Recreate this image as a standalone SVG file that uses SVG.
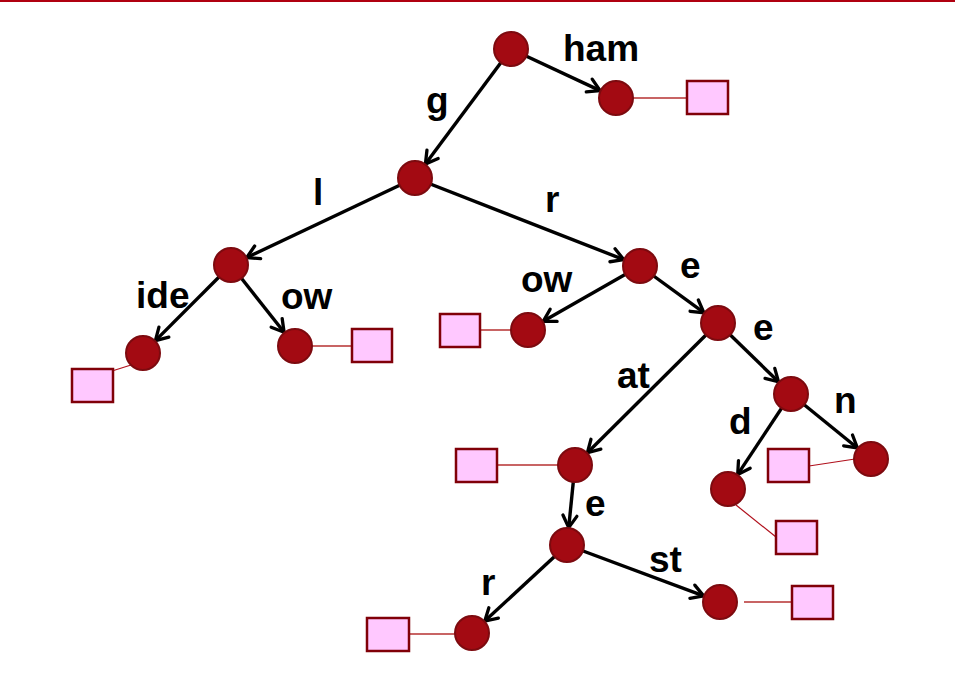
<svg xmlns="http://www.w3.org/2000/svg" width="955" height="682" viewBox="0 0 955 682">
<defs>
<marker id="arr" markerUnits="userSpaceOnUse" markerWidth="20" markerHeight="20" viewBox="-14 -10 16 20" refX="0" refY="0" orient="auto">
<path d="M-12,-7 L0,0 L-12,7" fill="none" stroke="#000" stroke-width="3.3" stroke-linecap="round" stroke-linejoin="miter"/>
</marker>
<style>
.e{stroke:#000;stroke-width:3.4;fill:none;marker-end:url(#arr)}
.n{fill:#a30a12;stroke:#7d0a0f;stroke-width:2}
.s{fill:#ffc8ff;stroke:#800008;stroke-width:2.5}
.lk{stroke:#c86464;stroke-width:2}
.lt{stroke:#b0101c;stroke-width:1.2}
.t{font-family:"Liberation Sans",Arial,sans-serif;font-weight:bold;font-size:37px;fill:#000}
</style>
</defs>
<rect width="955" height="682" fill="#fff"/>
<line x1="0" y1="1" x2="955" y2="1" stroke="#b00010" stroke-width="2"/>
<g id="connectors">
<line class="e" x1="511" y1="49" x2="600.1" y2="90.6"/>
<line class="e" x1="511" y1="49" x2="425.4" y2="164"/>
<line class="e" x1="415" y1="178" x2="246.8" y2="257.5"/>
<line class="e" x1="415" y1="178" x2="623.7" y2="259.6"/>
<line class="e" x1="231" y1="265" x2="155.4" y2="340.6"/>
<line class="e" x1="231" y1="265" x2="284.1" y2="332.3"/>
<line class="e" x1="640" y1="266" x2="543.2" y2="321.3"/>
<line class="e" x1="640" y1="266" x2="703.9" y2="312.7"/>
<line class="e" x1="718" y1="323" x2="778.5" y2="381.8"/>
<line class="e" x1="718" y1="323" x2="587.4" y2="452.7"/>
<line class="e" x1="791" y1="394" x2="737.7" y2="474.4"/>
<line class="e" x1="791" y1="394" x2="857.4" y2="448"/>
<line class="e" x1="575" y1="465" x2="568.7" y2="527.6"/>
<line class="e" x1="567" y1="545" x2="484.8" y2="621.1"/>
<line class="e" x1="567" y1="545" x2="703.6" y2="595.9"/>
<line class="lk" x1="633" y1="98" x2="687" y2="98"/>
<line class="lt" x1="131" y1="365" x2="112" y2="371"/>
<line class="lk" x1="312" y1="346" x2="352" y2="346"/>
<line class="lk" x1="480" y1="330" x2="511" y2="330"/>
<line class="lk" x1="497" y1="465" x2="558" y2="465"/>
<line class="lt" x1="809" y1="466" x2="855" y2="459"/>
<line class="lt" x1="736" y1="505" x2="776" y2="537"/>
<line class="lk" x1="409" y1="634" x2="455" y2="634"/>
<line class="lk" x1="744" y1="602" x2="792" y2="602"/>
</g>
<g id="n-root"><circle class="n" cx="511" cy="49" r="17"/></g>
<g id="n-ham"><circle class="n" cx="616" cy="98" r="17"/><rect class="s" x="687" y="81" width="41" height="33"/></g>
<g id="n-g"><circle class="n" cx="415" cy="178" r="17"/></g>
<g id="n-l"><circle class="n" cx="231" cy="265" r="17"/></g>
<g id="n-r"><circle class="n" cx="640" cy="266" r="17"/></g>
<g id="n-ide"><circle class="n" cx="143" cy="353" r="17"/><rect class="s" x="72" y="369" width="41" height="33"/></g>
<g id="n-ow1"><circle class="n" cx="295" cy="346" r="17"/><rect class="s" x="352" y="329" width="40" height="33"/></g>
<g id="n-ow2"><circle class="n" cx="528" cy="330" r="17"/><rect class="s" x="440" y="314" width="40" height="33"/></g>
<g id="n-e1"><circle class="n" cx="718" cy="323" r="17"/></g>
<g id="n-e2"><circle class="n" cx="791" cy="394" r="17"/></g>
<g id="n-at"><circle class="n" cx="575" cy="465" r="17"/><rect class="s" x="456" y="449" width="41" height="33"/></g>
<g id="n-d"><circle class="n" cx="728" cy="489" r="17"/><rect class="s" x="776" y="521" width="41" height="33"/></g>
<g id="n-n"><circle class="n" cx="871" cy="459" r="17"/><rect class="s" x="768" y="449" width="41" height="33"/></g>
<g id="n-e3"><circle class="n" cx="567" cy="545" r="17"/></g>
<g id="n-r2"><circle class="n" cx="472" cy="633" r="17"/><rect class="s" x="367" y="618" width="42" height="33"/></g>
<g id="n-st"><circle class="n" cx="720" cy="602" r="17"/><rect class="s" x="792" y="586" width="41" height="33"/></g>
<g id="labels">
<text class="t" x="563" y="61">ham</text>
<text class="t" x="426" y="113">g</text>
<text class="t" x="313" y="205">l</text>
<text class="t" x="545" y="212">r</text>
<text class="t" x="136" y="308">ide</text>
<text class="t" x="281" y="309">ow</text>
<text class="t" x="521" y="292">ow</text>
<text class="t" x="680" y="278">e</text>
<text class="t" x="753" y="340">e</text>
<text class="t" x="617" y="388">at</text>
<text class="t" x="729" y="434">d</text>
<text class="t" x="834" y="413">n</text>
<text class="t" x="585" y="516">e</text>
<text class="t" x="481" y="595">r</text>
<text class="t" x="649" y="572">st</text>
</g>
</svg>
